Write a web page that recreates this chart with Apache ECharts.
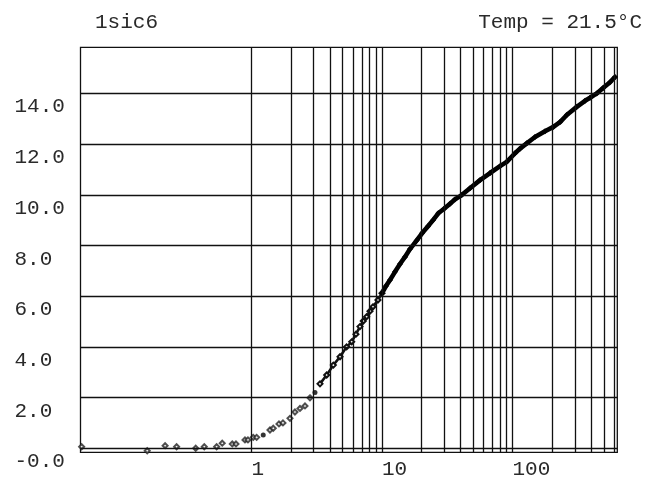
<!DOCTYPE html>
<html>
<head>
<meta charset="utf-8">
<script src="https://cdn.jsdelivr.net/npm/echarts@6/dist/echarts.min.js"></script>
<style>html,body{margin:0;padding:0;background:#fff}#c{width:648px;height:495px}</style>
</head>
<body>
<div id="c"></div>
<script>
// ---- data ----
const titleLeft = '1sic6';
const titleRight = 'Temp = 21.5\u00B0C';
const xTickLabels = [1, 10, 100];
const yTickValues = [0, 2, 4, 6, 8, 10, 12, 14];
const xGridValues = [1,2,3,4,5,6,7,8,9,10,20,30,40,50,60,70,80,90,100,200,300,400,500,600];
// sparse early points (hollow markers)
const sparseX = [0.05, 0.159, 0.218, 0.267, 0.374, 0.435, 0.541, 0.597, 0.713, 0.761, 0.892, 0.94, 1.032, 1.096, 1.386, 1.469, 1.625, 1.743, 1.973, 2.154, 2.353, 2.571, 2.807];
const sparseY = [0.06, -0.1, 0.1, 0.06, 0.0, 0.06, 0.06, 0.2, 0.17, 0.17, 0.33, 0.33, 0.43, 0.43, 0.72, 0.79, 0.96, 1.0, 1.18, 1.43, 1.57, 1.67, 1.99];
// filled markers
const filledX = [1.231, 3.066];
const filledY = [0.52, 2.2];
// rising part of the measurement band
const midX = [3.35, 3.77, 4.24, 4.77, 5.36, 5.86, 6.32, 6.78, 7.19, 7.63, 8.09, 8.53, 9.31, 10.0];
const midY = [2.54, 2.89, 3.28, 3.61, 4.0, 4.2, 4.5, 4.8, 5.02, 5.19, 5.41, 5.58, 5.85, 6.12];
// dense upper part of the band
const bandX = [10.0, 10.73, 11.52, 12.58, 13.74, 15.0, 16.39, 18.45, 20.26, 22.52, 24.6, 27.0, 29.9, 33.2, 36.3, 40.8, 47.2, 56.4, 67.3, 80.2, 90.3, 104.5, 114.1, 128.5, 148.7, 177.4, 205.5, 231.2, 261.6, 310.5, 359.4, 392.6, 441.7, 493.8, 558.5, 610.2];
const bandY = [6.12, 6.40, 6.64, 6.96, 7.27, 7.55, 7.86, 8.2, 8.48, 8.76, 9.0, 9.27, 9.45, 9.65, 9.82, 9.99, 10.26, 10.58, 10.86, 11.13, 11.30, 11.64, 11.82, 12.03, 12.28, 12.51, 12.68, 12.87, 13.16, 13.47, 13.71, 13.83, 14.0, 14.21, 14.44, 14.65];

const zip = (a, b) => a.map((v, i) => [v, b[i]]);
const FONT = 'Liberation Mono';
const TXT = '#2a2a2a';
const gridMarks = yTickValues.map(v => ({ yAxis: v })).concat(xGridValues.map(v => ({ xAxis: v })));

const chart = echarts.init(document.getElementById('c'), null, { renderer: 'canvas' });
chart.setOption({
  animation: false,
  backgroundColor: '#fff',
  title: [
    { text: titleLeft, left: 90, top: 7, textStyle: { fontFamily: FONT, fontSize: 21, fontWeight: 'normal', color: TXT } },
    { text: titleRight, right: 1, top: 7, textStyle: { fontFamily: FONT, fontSize: 21, fontWeight: 'normal', color: TXT } }
  ],
  grid: { left: 80.5, top: 47.3, width: 536.8, height: 405, show: true, borderColor: '#111', borderWidth: 1.3, backgroundColor: 'transparent' },
  xAxis: {
    type: 'log', logBase: 10, min: 0.049, max: 635,
    axisLine: { show: false }, axisTick: { show: false }, splitLine: { show: false }, minorSplitLine: { show: false },
    axisLabel: {
      customValues: xTickLabels,
      formatter: v => String(Math.round(v)),
      align: 'left', margin: 7,
      fontFamily: FONT, fontSize: 21, color: TXT
    }
  },
  yAxis: {
    type: 'value', min: -0.16, max: 15.82,
    axisLine: { show: false }, axisTick: { show: false }, splitLine: { show: false },
    axisLabel: {
      customValues: yTickValues,
      formatter: v => (v === 0 ? '-0.0' : v.toFixed(1)),
      align: 'left', margin: 66, verticalAlign: 'top', lineHeight: 21, padding: [3, 0, 0, 0],
      fontFamily: FONT, fontSize: 21, color: TXT
    }
  },
  series: [
    {
      type: 'line', data: [], silent: true,
      markLine: { silent: true, symbol: 'none', label: { show: false }, lineStyle: { color: '#111', width: 1.3, type: 'solid' }, data: gridMarks }
    },
    {
      type: 'scatter', data: zip(sparseX, sparseY), symbol: 'emptyDiamond', symbolSize: 5,
      itemStyle: { color: '#222', borderWidth: 1 }
    },
    {
      type: 'scatter', data: zip(filledX, filledY), symbol: 'circle', symbolSize: 5,
      itemStyle: { color: '#000' }
    },
    {
      type: 'line', data: zip(midX, midY), symbol: 'emptyDiamond', symbolSize: 5, showAllSymbol: true,
      lineStyle: { color: '#111', width: 2.6 }, itemStyle: { color: '#111', borderWidth: 1 }
    },
    {
      type: 'line', data: zip(bandX, bandY), symbol: 'diamond', symbolSize: 6, showAllSymbol: true,
      lineStyle: { color: '#000', width: 4.6 }, itemStyle: { color: '#000' }
    }
  ]
});
</script>
</body>
</html>
